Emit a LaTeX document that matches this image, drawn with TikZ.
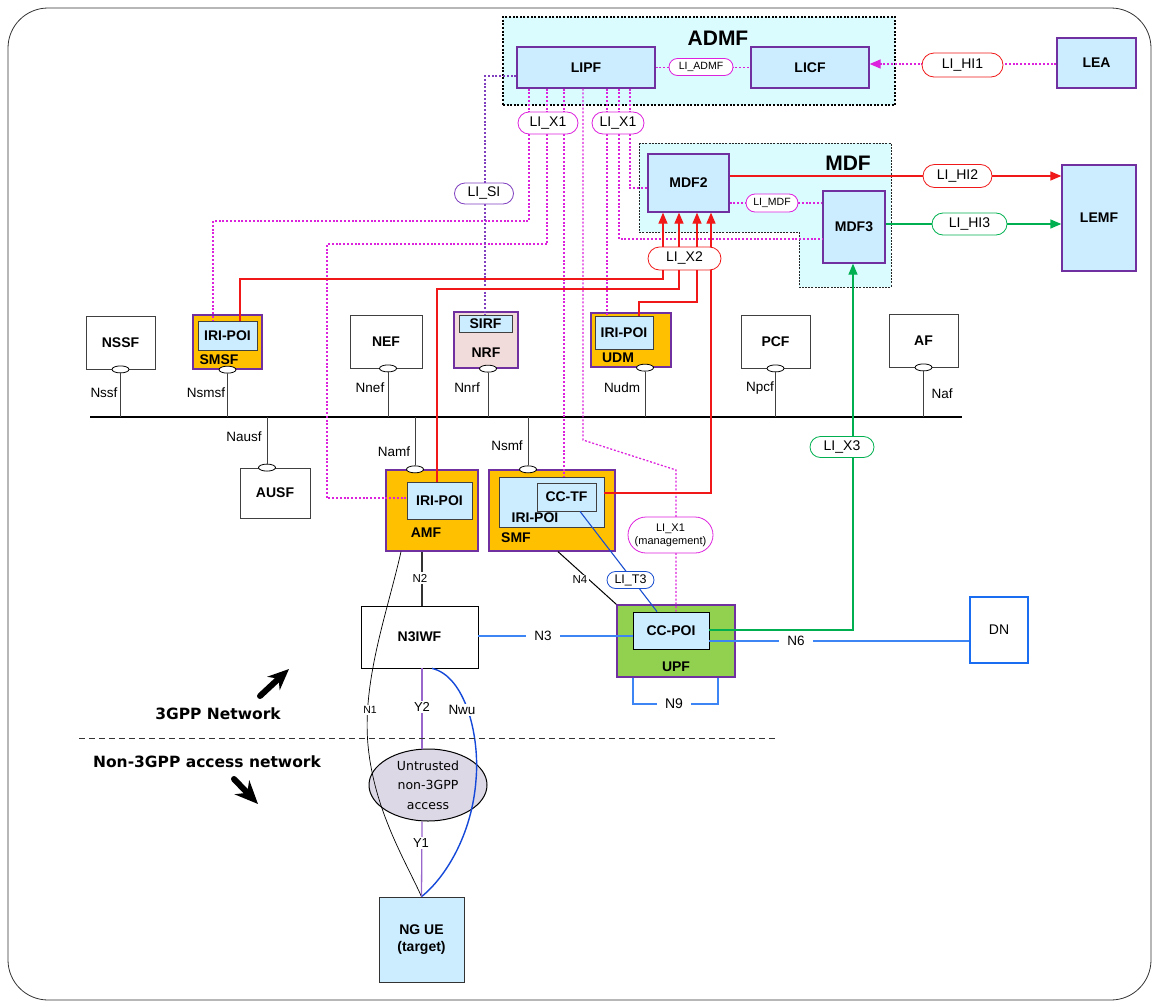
\documentclass[tikz,border=0pt]{standalone}
\usepackage{fontspec}
\setmainfont{Liberation Sans}
\newfontfamily\dvs{DejaVu Sans}
\usetikzlibrary{shapes.geometric,shapes.misc,arrows.meta}
\newcommand\myfs[1]{\fontsize{#1}{#1}\selectfont}
\newcommand\myfsb[2]{\fontsize{#1}{#2}\selectfont}
\definecolor{lblue}{HTML}{CCECFF}
\definecolor{cyanbg}{HTML}{DBFCFF}
\definecolor{vio}{HTML}{7030A0}
\definecolor{orangef}{HTML}{FFC000}
\definecolor{greenf}{HTML}{92D050}
\definecolor{mag}{HTML}{DD22DD}
\definecolor{sipur}{HTML}{7F3FBF}
\definecolor{redl}{HTML}{F01818}
\definecolor{greenl}{HTML}{00B050}
\definecolor{bluet}{HTML}{1A4FD0}
\definecolor{bluel}{HTML}{3D85F5}
\definecolor{bluedn}{HTML}{1A6CF0}
\definecolor{bluenwu}{HTML}{1448D8}
\definecolor{ypur}{HTML}{9966CC}
\definecolor{ellf}{HTML}{DDD8E6}
\definecolor{nrff}{HTML}{F2DCDB}
\begin{document}
\begin{tikzpicture}[x=1pt,y=-1pt,
  fbox/.style={draw=vio, line width=1.3pt, fill=lblue, inner sep=0pt, align=center, font=\bfseries\myfs{14}},
  wbox/.style={draw=black!75, line width=0.8pt, fill=white, inner sep=0pt, align=center, font=\bfseries\myfs{14}},
  obox/.style={draw=vio, line width=1.3pt, fill=orangef, inner sep=0pt},
  ibox/.style={draw=black!75, line width=0.8pt, fill=lblue, inner sep=0pt, align=center, font=\bfseries\myfs{14}},
  nlbl/.style={inner sep=0pt, font=\bfseries\myfs{14}},
  pill/.style={rounded rectangle, draw, line width=0.8pt, fill=white, inner sep=0pt, font=\myfs{14}, align=center},
  ifc/.style={ellipse, draw=black, line width=0.8pt, fill=white, minimum width=17pt, minimum height=7pt, inner sep=0pt},
  ifl/.style={draw=black!75, line width=1pt},
  lbl/.style={inner sep=1pt, font=\myfs{13.5}},
  wl/.style={inner sep=1.5pt, fill=white},
  x1l/.style={draw=mag, line width=1.3pt, dash pattern=on 2pt off 1.8pt},
  sil/.style={draw=sipur, line width=1.4pt, dash pattern=on 2pt off 1.8pt},
  x2l/.style={draw=redl, line width=1.3pt},
  x3l/.style={draw=greenl, line width=1.3pt},
  tip/.style={-{Triangle[length=11pt,width=9pt]}},
  fat/.style={line width=6pt, line cap=round}
]
\useasboundingbox (0,0) rectangle (1152,1001);
\draw[rounded corners=40pt, line width=0.8pt, black!80] (8,8) rectangle (1151,1000);

% ---------- group boxes ----------
\node[draw=black, fill=cyanbg, line width=1.4pt, dash pattern=on 2pt off 1.6pt, minimum width=392pt, minimum height=88pt, inner sep=0pt] (admf) at (699,61) {};
\node[font=\bfseries\myfs{21}, inner sep=0pt] (admft) at (718,38) {ADMF};
\draw[black!85, fill=cyanbg, line width=0.7pt, dash pattern=on 2pt off 1.2pt] (639,143) -- (891,143) -- (891,287) -- (799,287) -- (799,232) -- (639,232) -- cycle;
\node[font=\bfseries\myfs{21}, inner sep=0pt] (mdft) at (848,163) {MDF};

% ---------- boxes ----------
\node[fbox, minimum width=138pt, minimum height=41pt] (lipf) at (586,67.5) {LIPF};
\node[fbox, minimum width=118pt, minimum height=41pt] (licf) at (810,67.5) {LICF};
\node[fbox, minimum width=79pt, minimum height=50pt] (lea) at (1096.5,63) {LEA};
\node[fbox, minimum width=81pt, minimum height=58pt] (mdf2) at (688.5,183) {MDF2};
\node[fbox, minimum width=62pt, minimum height=72pt] (mdf3) at (854,227) {MDF3};
\node[fbox, minimum width=74pt, minimum height=106pt] (lemf) at (1099,218) {LEMF};

\node[wbox, minimum width=69pt, minimum height=53pt] (nssf) at (120.5,342.5) {NSSF};
\node[obox, minimum width=69pt, minimum height=54pt] (smsf) at (227.5,342) {};
\node[ibox, minimum width=59pt, minimum height=29pt] (smsfpoi) at (227.5,335.5) {IRI-POI};
\node[nlbl] (smsfl) at (219,360) {SMSF};
\node[wbox, minimum width=72pt, minimum height=53pt] (nef) at (386,341.5) {NEF};
\node[draw=vio, line width=1.3pt, fill=nrff, minimum width=64pt, minimum height=56pt, inner sep=0pt] (nrf) at (486,340) {};
\node[ibox, minimum width=53pt, minimum height=17pt] (sirf) at (485.5,323.5) {SIRF};
\node[nlbl] (nrfl) at (486,353) {NRF};
\node[obox, minimum width=80pt, minimum height=54pt] (udm) at (631,340) {};
\node[ibox, minimum width=58pt, minimum height=33pt] (udmpoi) at (624,332.5) {IRI-POI};
\node[nlbl] (udml) at (618,358) {UDM};
\node[wbox, minimum width=69pt, minimum height=53pt] (pcf) at (775.5,341.5) {PCF};
\node[wbox, minimum width=69pt, minimum height=53pt] (af) at (923.5,340.5) {AF};
\node[wbox, minimum width=70pt, minimum height=50pt] (ausf) at (275,493) {AUSF};

\node[obox, minimum width=92pt, minimum height=81pt] (amf) at (432,510.5) {};
\node[ibox, minimum width=65pt, minimum height=37pt] (amfpoi) at (439.5,500.5) {IRI-POI};
\node[nlbl] (amfl) at (426,533) {AMF};
\node[obox, minimum width=126pt, minimum height=81pt] (smf) at (552,510.5) {};
\node[ibox, minimum width=105pt, minimum height=50pt] (smfpoi) at (551.5,502) {};
\node[nlbl] (smfpoil) at (535,518) {IRI-POI};
\node[ibox, minimum width=59pt, minimum height=28pt] (cctf) at (566.5,497) {CC-TF};
\node[nlbl] (smfl) at (516,538) {SMF};

\node[draw=black, line width=0.8pt, fill=white, minimum width=117pt, minimum height=62pt, inner sep=0pt, font=\bfseries\myfs{14}] (n3iwf) at (419.5,637) {N3IWF};
\node[draw=vio, line width=1.3pt, fill=greenf, minimum width=118pt, minimum height=72pt, inner sep=0pt] (upf) at (676,641) {};
\node[ibox, draw=black, minimum width=76pt, minimum height=37pt] (ccpoi) at (671,630.5) {CC-POI};
\node[nlbl] (upfl) at (676,667) {UPF};
\node[draw=bluedn, line width=2pt, fill=white, minimum width=58pt, minimum height=66pt, inner sep=0pt, font=\myfs{14}] (dn) at (999,630) {DN};

\node[ellipse, draw=black, line width=1pt, fill=ellf, minimum width=118pt, minimum height=72pt, inner sep=0pt, align=center, font={\dvs\myfsb{12.5}{19.5}}] (untr) at (428,785) {Untrusted\\non-3GPP\\access};
\node[draw=black!80, line width=0.8pt, fill=lblue, minimum width=85pt, minimum height=85pt, inner sep=0pt, align=center, font={\bfseries\myfsb{14}{17}}] (ngue) at (421.5,939.5) {NG UE\\(target)};

% ---------- service bus ----------
\coordinate (busl) at (90,417);
\coordinate (busr) at (962,417);
\draw[black, line width=1.2pt] (busl) -- (busr);
\node[ifc] (nssfc) at (nssf.south) {};
\node[ifc] (smsfc) at (smsf.south) {};
\node[ifc] (nefc) at (388,0 |- nef.south) {};
\node[ifc] (nrfc) at (488,0 |- nrf.south) {};
\node[ifc] (udmc) at (645,0 |- udm.south) {};
\node[ifc] (pcfc) at (pcf.south) {};
\node[ifc] (afc) at (af.south) {};
\node[ifc] (ausfc) at (267,0 |- ausf.north) {};
\node[ifc] (amfc) at (415,0 |- amf.north) {};
\node[ifc] (smfc) at (528,0 |- smf.north) {};
\draw[ifl] (nssfc.south) -- (nssfc.south |- busl);
\draw[ifl] (smsfc.south) -- (smsfc.south |- busl);
\draw[ifl] (nefc.south) -- (nefc.south |- busl);
\draw[ifl] (nrfc.south) -- (nrfc.south |- busl);
\draw[ifl] (udmc.south) -- (udmc.south |- busl);
\draw[ifl] (pcfc.south) -- (pcfc.south |- busl);
\draw[ifl] (afc.south) -- (afc.south |- busl);
\draw[ifl] (ausfc.north) -- (ausfc.north |- busl);
\draw[ifl] (amfc.north) -- (amfc.north |- busl);
\draw[ifl] (smfc.north) -- (smfc.north |- busl);
\node[lbl] (lnssf) at (104,393) {Nssf};
\node[lbl] (lnsmsf) at (206,393) {Nsmsf};
\node[lbl] (lnausf) at (244,437) {Nausf};
\node[lbl] (lnnef) at (370,388) {Nnef};
\node[lbl] (lnnrf) at (467,388) {Nnrf};
\node[lbl] (lnudm) at (622,388) {Nudm};
\node[lbl] (lnpcf) at (760,388) {Npcf};
\node[lbl] (lnaf) at (942,394) {Naf};
\node[lbl] (lnamf) at (394,452) {Namf};
\node[lbl] (lnsmf) at (507,446) {Nsmf};

% ---------- LI_X1 dotted lines ----------
\draw[x1l] (529,0 |- lipf.south) |- (213,221) -- (213,0 |- smsfpoi.north);
\draw[x1l] (547,0 |- lipf.south) |- (327,244) |- (amfpoi.west |- 0,498);
\draw[x1l] (564,0 |- lipf.south) -- (564,0 |- smfpoi.north);
\draw[x1l] (583,0 |- lipf.south) -- (583,440) -- (676,470) -- (676,0 |- ccpoi.north);
\draw[x1l] (607,0 |- lipf.south) -- (607,0 |- udmpoi.north);
\draw[x1l] (619,0 |- lipf.south) |- (mdf3.west |- 0,239);
\draw[x1l] (630,0 |- lipf.south) |- (mdf2.west |- 0,188);
\draw[x1l] (lipf.east) -- (licf.west);
\draw[x1l] (mdf2.east |- 0,203) -- (mdf3.west |- 0,203);
\draw[x1l, -{Triangle[length=11pt,width=9pt]}, mag] (lea.west |- 0,64) -- (licf.east |- 0,64);
\draw[sil] (lipf.west |- 0,76) -| (485,0 |- sirf.north);

% ---------- LI_X2 red lines ----------
\node[pill, draw=redl, minimum width=73pt, minimum height=23pt] (lix2) at (684.5,258.5) {LI\_X2};
\draw[x2l, tip] (663,0 |- lix2.north) -- (663,0 |- mdf2.south);
\draw[x2l, tip] (679,0 |- lix2.north) -- (679,0 |- mdf2.south);
\draw[x2l, tip] (697,0 |- lix2.north) -- (697,0 |- mdf2.south);
\draw[x2l, tip] (711,0 |- lix2.north) -- (711,0 |- mdf2.south);
\draw[x2l] (663,0 |- lix2.south) |- (240,279) -- (240,0 |- smsfpoi.north);
\draw[x2l] (679,0 |- lix2.south) |- (437,289) -- (437,0 |- amfpoi.north);
\draw[x2l] (697,0 |- lix2.south) |- (639,302) -- (639,0 |- udmpoi.north);
\draw[x2l] (711,0 |- lix2.south) |- (smfpoi.east |- 0,493);

% ---------- handover ----------
\draw[x2l, tip] (mdf2.east |- 0,176) -- (lemf.west |- 0,176);
\draw[x3l, tip] (mdf3.east |- 0,224) -- (lemf.west |- 0,224);
\draw[x3l, tip] (ccpoi.east |- 0,630) -| (853,0 |- mdf3.south);

% ---------- user plane / access ----------
\draw[black!80, line width=1.2pt] (422,0 |- amf.south) -- (422,0 |- n3iwf.north);
\draw[black, line width=1pt] (558,0 |- smf.south) -- (upf.north west);
\draw[bluet, line width=1.1pt] (580,0 |- cctf.south) -- (657,0 |- ccpoi.north);
\draw[bluel, line width=1.2pt] (n3iwf.east |- 0,636) -- (ccpoi.west |- 0,636);
\draw[bluel, line width=1.4pt] (ccpoi.east |- 0,641) -- (dn.west |- 0,641);
\draw[bluel, line width=1.2pt] (633,0 |- upf.south) |- (718,704) -- (718,0 |- upf.south);
\draw[black, line width=0.7pt] (401,0 |- amf.south) .. controls (388,610) and (362,680) .. (368,745) .. controls (374,810) and (405,860) .. (ngue.north);
\draw[bluenwu, line width=1.4pt] (432,0 |- n3iwf.south) .. controls (465,676) and (480,735) .. (476,780) .. controls (472,835) and (445,878) .. (ngue.north);
\draw[ypur, line width=1.3pt] (422,0 |- n3iwf.south) -- (422,0 |- untr.north);
\draw[ypur, line width=1.3pt] (422,0 |- untr.south) -- (ngue.north);

% ---------- pills ----------
\node[pill, draw=mag, minimum width=64pt, minimum height=17pt, font=\myfs{10.5}] (liadmf) at (701,67) {LI\_ADMF};
\node[pill, draw=redl, minimum width=81pt, minimum height=24pt] (lihi1) at (962.5,65) {LI\_HI1};
\node[pill, draw=mag, minimum width=60pt, minimum height=22pt] (lix1a) at (548,123) {LI\_X1};
\node[pill, draw=mag, minimum width=52pt, minimum height=22pt] (lix1b) at (618,123) {LI\_X1};
\node[pill, draw=sipur, minimum width=59pt, minimum height=21pt] (lisi) at (484,193.5) {LI\_SI};
\node[pill, draw=mag, minimum width=52pt, minimum height=18pt, font=\myfs{10.5}] (limdf) at (772,203) {LI\_MDF};
\node[pill, draw=redl, minimum width=69pt, minimum height=23pt] (lihi2) at (957.5,176) {LI\_HI2};
\node[pill, draw=greenl, minimum width=75pt, minimum height=22pt] (lihi3) at (969.5,224) {LI\_HI3};
\node[pill, draw=greenl, minimum width=64pt, minimum height=21pt] (lix3) at (842,447) {LI\_X3};
\node[pill, draw=mag, minimum width=85pt, minimum height=36pt, font={\myfsb{11}{13}}] (lix1m) at (670.5,535) {LI\_X1\\(management)};
\node[pill, draw=bluet, minimum width=47pt, minimum height=17pt, font=\myfs{12.5}] (lit3) at (630.5,580) {LI\_T3};

% ---------- interface labels ----------
\node[wl, font=\myfs{11.5}] (ln2) at (420,578) {N2};
\node[wl, font=\myfs{11.5}] (ln4) at (580,580) {N4};
\node[wl, font=\myfs{13.5}, inner xsep=8pt] (ln3) at (543,636) {N3};
\node[wl, font=\myfs{13.5}, inner xsep=8pt] (ln6) at (796,641) {N6};
\node[wl, font=\myfs{14}, inner xsep=8pt] (ln9) at (674,704) {N9};
\node[wl, font=\myfs{10.5}] (ln1) at (370,710) {N1};
\node[wl, font=\myfs{13}] (ly2) at (422,707) {Y2};
\node[wl, font=\myfs{13.5}] (lnwu) at (462,710) {Nwu};
\node[wl, font=\myfs{13}] (ly1) at (421,843) {Y1};

% ---------- network split ----------
\draw[black!80, line width=0.9pt, dash pattern=on 6pt off 4pt] (79,738) -- (776,738);
\node[font=\dvs\bfseries\myfs{15.5}, inner sep=0pt] (g3) at (218,714) {3GPP Network};
\node[font=\dvs\bfseries\myfs{15.5}, inner sep=0pt] (ng3) at (207,762) {Non-3GPP access network};
\draw[fat, -{Stealth[length=21pt,width=18pt]}] (260,696) -- (289,669);
\draw[fat, -{Stealth[length=23pt,width=20pt]}] (234,779) -- (258,804);
\end{tikzpicture}
\end{document}
